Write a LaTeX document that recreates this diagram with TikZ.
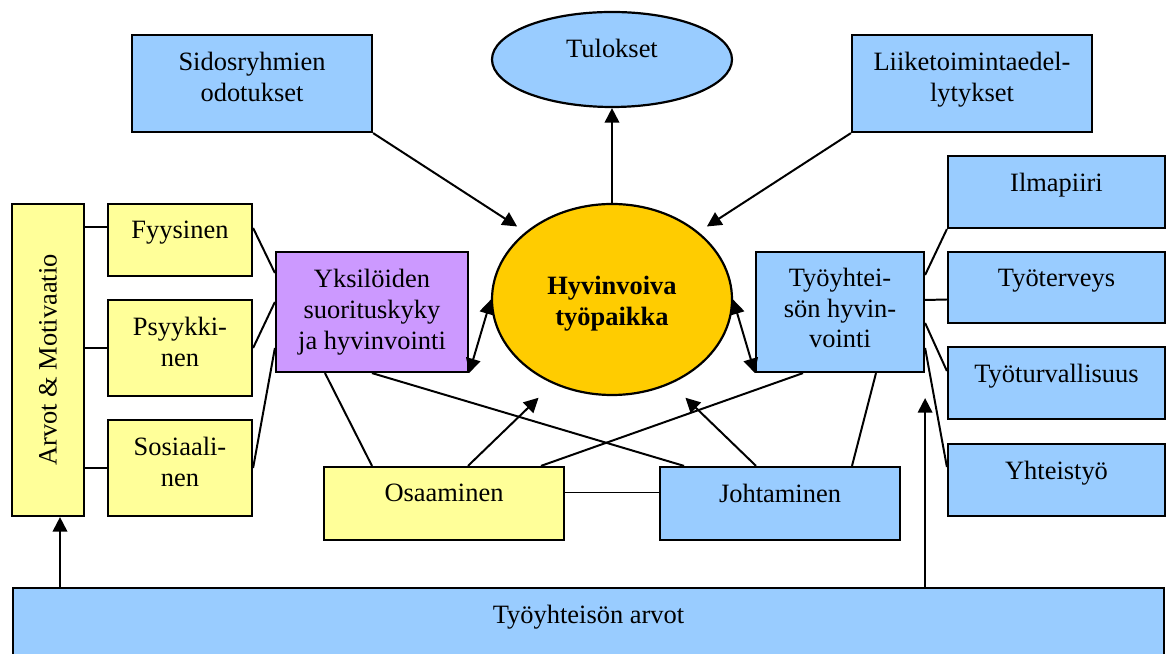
\documentclass[tikz,border=0pt]{standalone}
\usepackage{fontspec}
\setmainfont{Liberation Serif}
\usetikzlibrary{arrows.meta, positioning, shapes.geometric}
\definecolor{sininen}{HTML}{99CCFF}
\definecolor{keltainen}{HTML}{FFFF99}
\definecolor{violetti}{HTML}{CC99FF}
\definecolor{kulta}{HTML}{FFCC00}
\newdimen\pxl \pxl=0.4536pt
\newcommand{\perusfontti}{\fontsize{12pt}{14pt}\selectfont}
\tikzset{>={Triangle[length=6.6pt,width=6.6pt]}}
\tikzset{
  laatikko/.style={draw, line width=1pt, rectangle, inner sep=0pt},
  sin/.style={laatikko, fill=sininen},
  kel/.style={laatikko, fill=keltainen},
  soikio/.style={ellipse, draw, line width=1pt, inner sep=0pt},
  teksti/.style={inner sep=0pt, align=center},
  yhteys/.style={line width=0.9pt}
}

\begin{document}
\begin{tikzpicture}[x=\pxl, y=-\pxl, font=\perusfontti]
  \useasboundingbox (0,0) rectangle (1172,654);

  % ylarivi
  \node[sin, minimum width=240\pxl, minimum height=97\pxl] (sid) at (252,83.5) {};
  \node[teksti, below=8pt of sid.north] (sidT) {Sidosryhmien\\odotukset};
  \node[soikio, fill=sininen, minimum width=240\pxl, minimum height=95\pxl] (tul) at (612,59.5) {};
  \node[teksti, below=12.7pt of tul.north] (tulT) {Tulokset};
  \node[sin, minimum width=240\pxl, minimum height=97\pxl] (lii) at (972,83.5) {};
  \node[teksti, below=8pt of lii.north] (liiT) {Liiketoimintaedel-\\lytykset};

  % keskusta
  \node[soikio, fill=kulta, minimum width=240\pxl, minimum height=191\pxl] (hyv) at (612,299.5) {};
  \node[teksti, font=\perusfontti\bfseries, below=33.1pt of hyv.north] (hyvT) {Hyvinvoiva\\työpaikka};

  % vasen ryhma
  \node[kel, rotate=90, minimum width=312\pxl, minimum height=72\pxl] (arvmot) at (48,360) {Arvot \& Motivaatio};
  \node[kel, minimum width=144\pxl, minimum height=72\pxl] (fyy) at (180,240) {};
  \node[teksti, below=8pt of fyy.north] (fyyT) {Fyysinen};
  \node[kel, minimum width=144\pxl, minimum height=96\pxl] (psy) at (180,348) {};
  \node[teksti, below=8pt of psy.north] (psyT) {Psyykki-\\nen};
  \node[kel, minimum width=144\pxl, minimum height=96\pxl] (sos) at (180,468) {};
  \node[teksti, below=8pt of sos.north] (sosT) {Sosiaali-\\nen};
  \node[laatikko, fill=violetti, minimum width=192\pxl, minimum height=120\pxl] (yks) at (372,312) {};
  \node[teksti, below=8pt of yks.north] (yksT) {Yksilöiden\\suorituskyky\\ja hyvinvointi};

  % oikea ryhma
  \node[sin, minimum width=168\pxl, minimum height=120\pxl] (tyh) at (840,312) {};
  \node[teksti, below=7.5pt of tyh.north] (tyhT) {Työyhtei-\\sön hyvin-\\vointi};
  \node[sin, minimum width=217\pxl, minimum height=72\pxl] (ilm) at (1056.5,192) {};
  \node[teksti, below=8pt of ilm.north] (ilmT) {Ilmapiiri};
  \node[sin, minimum width=217\pxl, minimum height=71\pxl] (ter) at (1056.5,287.5) {};
  \node[teksti, below=8pt of ter.north] (terT) {Työterveys};
  \node[sin, minimum width=217\pxl, minimum height=72\pxl] (tur) at (1056.5,383) {};
  \node[teksti, below=8pt of tur.north] (turT) {Työturvallisuus};
  \node[sin, minimum width=217\pxl, minimum height=72\pxl] (yht) at (1056.5,480) {};
  \node[teksti, below=8pt of yht.north] (yhtT) {Yhteistyö};

  % alarivi
  \node[kel, minimum width=240\pxl, minimum height=73\pxl] (osa) at (444,503.5) {};
  \node[teksti, below=8pt of osa.north] (osaT) {Osaaminen};
  \node[sin, minimum width=240\pxl, minimum height=73\pxl] (joh) at (780,503.5) {};
  \node[teksti, below=8pt of joh.north] (johT) {Johtaminen};
  \node[sin, minimum width=1151\pxl, minimum height=102\pxl] (arv) at (588.5,639) {};
  \node[teksti, below=8pt of arv.north] (arvT) {Työyhteisön arvot};

  % nuolet keskustaan
  \draw[yhteys, ->] (hyv) -- (tul);
  \draw[yhteys, ->, shorten >=10\pxl] (sid.south east) -- (hyv.142);
  \draw[yhteys, ->, shorten >=10\pxl] (lii.south west) -- (hyv.38);
  \draw[yhteys, <->] (yks.south east) -- (hyv.west);
  \draw[yhteys, <->] (tyh.south west) -- (hyv.east);
  \draw[yhteys, ->, shorten >=20\pxl] ([xshift=24\pxl]osa.north) -- (hyv.235);
  \draw[yhteys, ->, shorten >=20\pxl] ([xshift=-24\pxl]joh.north) -- (hyv.305);

  % vasemmat yhteydet
  \draw[yhteys] (arvmot.south |- fyy.170) -- (fyy.170);
  \draw[yhteys] (arvmot.south |- psy.west) -- (psy.west);
  \draw[yhteys] (arvmot.south |- sos.west) -- (sos.west);
  \draw[yhteys] ([yshift=12\pxl]fyy.east) -- ([yshift=39\pxl]yks.west);
  \draw[yhteys] (psy.east) -- ([yshift=10\pxl]yks.west);
  \draw[yhteys] (sos.east) -- ([yshift=-36\pxl]yks.west);

  % ristikkaiset yhteydet
  \draw[yhteys] ([xshift=-47\pxl]yks.south) -- ([xshift=-72\pxl]osa.north);
  \draw[yhteys] (yks.south) -- ([xshift=-96\pxl]joh.north);
  \draw[yhteys] ([xshift=97\pxl]osa.north) -- ([xshift=-37\pxl]tyh.south);
  \draw[yhteys] ([xshift=72\pxl]joh.north) -- ([xshift=36\pxl]tyh.south);
  \draw[yhteys] ([yshift=11\pxl]osa.east) -- ([yshift=11\pxl]joh.west);

  % oikeat yhteydet
  \draw[yhteys] ([yshift=37\pxl]tyh.east) -- (ilm.south west);
  \draw[yhteys] ([yshift=12\pxl]tyh.east) -- ([yshift=-12\pxl]ter.west);
  \draw[yhteys] ([yshift=-11\pxl]tyh.east) -- ([yshift=12\pxl]tur.west);
  \draw[yhteys] ([yshift=-36\pxl]tyh.east) -- ([yshift=13\pxl]yht.west);

  % arvot
  \coordinate (arvmotA) at ([xshift=12\pxl]arvmot.west);
  \draw[yhteys, <-] (arvmotA) -- (arvmotA |- arv.north);
  \draw[yhteys, ->] (arv.north -| tyh.east) -- ([yshift=-25\pxl]tyh.south east);
\end{tikzpicture}
\end{document}
